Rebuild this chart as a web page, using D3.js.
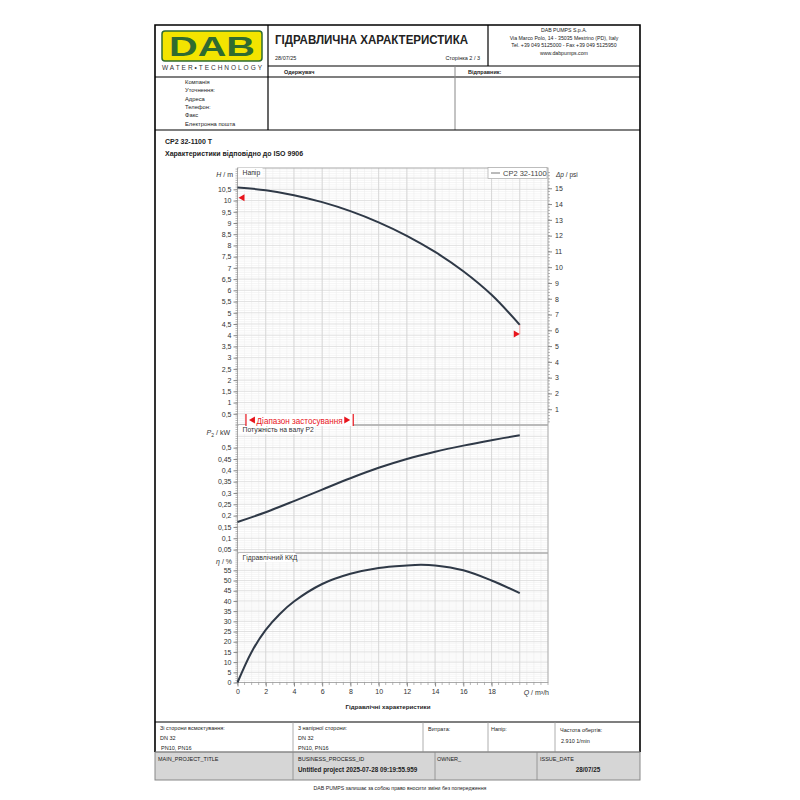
<!DOCTYPE html>
<html><head><meta charset="utf-8">
<script src="https://cdn.jsdelivr.net/npm/d3@7"></script>
<style>body{margin:0;background:#fff} svg{display:block} text{font-family:"Liberation Sans",Arial,sans-serif;fill:#222}</style>
</head><body><svg id="c" width="800" height="800"></svg>
<script>
// ---- data ----
const flow  = [0, 2, 4, 6, 8, 10, 12, 14, 16, 18, 20];
const head  = [10.58, 10.46, 10.24, 9.93, 9.53, 9.03, 8.43, 7.71, 6.85, 5.80, 4.46];
const power = [0.172, 0.215, 0.264, 0.315, 0.365, 0.411, 0.45, 0.482, 0.509, 0.533, 0.555];
const effFlow = [0, 1, 2, 3, 4, 6, 8, 10, 12, 13, 14, 16, 18, 20];
const eff     = [0, 15.0, 25.8, 33.6, 39.7, 48.3, 53.3, 56.2, 57.4, 57.7, 57.4, 55.0, 50.0, 43.8];
const qTicks   = [0, 2, 4, 6, 8, 10, 12, 14, 16, 18];
const hTicks   = [0.5,1,1.5,2,2.5,3,3.5,4,4.5,5,5.5,6,6.5,7,7.5,8,8.5,9,9.5,10,10.5];
const psiTicks = [1,2,3,4,5,6,7,8,9,10,11,12,13,14,15];
const pTicks   = [0.05,0.1,0.15,0.2,0.25,0.3,0.35,0.4,0.45,0.5];
const etaTicks = [0,5,10,15,20,25,30,35,40,45,50,55];
const dutyLeft  = {q: 0, h: 10.12};
const dutyRight = {q: 20, h: 4.05};
const rangeQ = [0.6, 8.2];

const svg = d3.select("#c");
const fmt = d => String(+d.toFixed(2)).replace(".", ",");

// ---- page frame ----
const line = (x1,y1,x2,y2,c="#000",w=1) => svg.append("line").attr("x1",x1).attr("y1",y1).attr("x2",x2).attr("y2",y2).attr("stroke",c).attr("stroke-width",w);
const txt = (x,y,s,size=6,opt={}) => {
  const t = svg.append("text").attr("x",x).attr("y",y).attr("font-size",size).text(s);
  if (opt.bold) t.attr("font-weight","bold");
  if (opt.anchor) t.attr("text-anchor",opt.anchor);
  if (opt.fill) t.style("fill",opt.fill);
  return t;
};

// footer gray row
svg.append("rect").attr("x",155).attr("y",752).attr("width",485).attr("height",28).attr("fill","#d6d6d6").attr("stroke","#888");
// outer frame
svg.append("path").attr("d","M155,752 V25 H640 V752").attr("fill","none").attr("stroke","#000").attr("stroke-width",1.6);
// header lines
line(268,25,268,130,"#000",1.2);
line(488,25,488,66,"#000",1.2);
line(268,66,640,66,"#000",1.2);
line(155,77,640,77,"#000",1.2);
line(455,66,455,130,"#888",1);
line(155,130,640,130,"#000",1.2);
line(155,722,640,722,"#000",1.2);
// footer row 1 dividers
[293,423,488,555].forEach(x => line(x,722,x,752,"#999",0.8));
line(155,752,640,752,"#888",1);
[293,435,537].forEach(x => line(x,752,x,780,"#888",0.8));

// logo
svg.append("rect").attr("x",162).attr("y",31).attr("width",100).attr("height",30).attr("rx",3).attr("fill","#f3e400").attr("stroke","#2f6b30").attr("stroke-width",1.5);
txt(212,56,"DAB",27,{bold:true,anchor:"middle",fill:"#2f6b30"}).attr("textLength",86).attr("lengthAdjust","spacingAndGlyphs").attr("font-family","'DejaVu Sans',sans-serif");
txt(212,70,"WATER•TECHNOLOGY",6.5,{anchor:"middle",fill:"#333"}).attr("textLength",100).attr("lengthAdjust","spacing");

// title block
txt(275,44,"ГІДРАВЛИЧНА ХАРАКТЕРИСТИКА",12.5,{bold:true}).attr("textLength",193).attr("lengthAdjust","spacingAndGlyphs");
txt(275,60,"28/07/25",5.5);
txt(480,60,"Сторінка 2 / 3",5.5,{anchor:"end"});
// address
[["DAB PUMPS S.p.A.",32],["Via Marco Polo, 14 - 35035 Mestrino (PD), Italy",39.5],["Tel. +39 049 5125000 - Fax +39 049 5125950",47],["www.dabpumps.com",54.5]]
  .forEach(([s,y]) => txt(564,y,s,5.2,{anchor:"middle"}));
txt(284,74,"Одержувач",5.5,{bold:true});
txt(468,74,"Відправник:",5.5,{bold:true});
// info labels
[["Компанія",84],["Уточнення:",92],["Адреса",100.5],["Телефон:",109],["Факс",117],["Електронна пошта",126]]
  .forEach(([s,y]) => txt(185,y,s,5.8));

// section titles
txt(165,144,"CP2 32-1100 T",7,{bold:true});
txt(165,156,"Характеристики відповідно до ISO 9906",7,{bold:true});

// ---- chart scales ----
const xL = 237.5, xR = 548;
const x = d3.scaleLinear().domain([0,22]).range([xL,xR]);
const yH = d3.scaleLinear().domain([0,11.45]).range([425,168]);
const yPsi = d3.scaleLinear().domain([0,11.45/0.70307]).range([425,168]);
const yP = d3.scaleLinear().domain([0.035,0.6]).range([553,425]);
const yE = d3.scaleLinear().domain([0,63.5]).range([682.5,553]);

const g = svg.append("g");
// grid
function hgrid(scale, step, from, to, color, w) {
  const n = Math.round((to-from)/step);
  for (let i=0;i<=n;i++){ const v = from + i*step; const yy = scale(v);
    g.append("line").attr("x1",xL).attr("x2",xR).attr("y1",yy).attr("y2",yy).attr("stroke",color).attr("stroke-width",w); }
}
hgrid(yH,0.1,0,11.4,"#efefef",0.6);
hgrid(yP,0.01,0.04,0.6,"#efefef",0.6);
hgrid(yE,1,0,63,"#efefef",0.6);
d3.range(0,22.01,0.5).forEach(q => g.append("line").attr("x1",x(q)).attr("x2",x(q)).attr("y1",168).attr("y2",682.5).attr("stroke","#eeeeee").attr("stroke-width",0.6));
hgrid(yH,0.5,0.5,11,"#dadada",0.7);
hgrid(yP,0.05,0.05,0.6,"#dadada",0.7);
hgrid(yE,5,5,60,"#dadada",0.7);
d3.range(2,22,2).forEach(q => g.append("line").attr("x1",x(q)).attr("x2",x(q)).attr("y1",168).attr("y2",682.5).attr("stroke","#d2d2d2").attr("stroke-width",0.8));

// frame lines
g.append("rect").attr("x",xL).attr("y",168).attr("width",xR-xL).attr("height",682.5-168).attr("fill","none").attr("stroke","#aaa").attr("stroke-width",1);
[425,553].forEach(yy => g.append("line").attr("x1",xL).attr("x2",xR).attr("y1",yy).attr("y2",yy).attr("stroke","#aaa").attr("stroke-width",1.4));

// axes
const axCol = "#888";
function leftAxis(scale, major, minorStep, lo, hi) {
  const ax = svg.append("g").attr("transform",`translate(${xL},0)`)
    .call(d3.axisLeft(scale).tickValues(major).tickFormat(fmt).tickSize(4).tickPadding(2));
  ax.select(".domain").remove();
  ax.selectAll("line").attr("stroke",axCol);
  ax.selectAll("text").attr("font-size",7).style("fill","#333").attr("font-family","'Liberation Sans',Arial,sans-serif");
  const mn = d3.range(lo, hi+1e-9, minorStep);
  ax.selectAll(".mn").data(mn).enter().append("line").attr("x1",-2).attr("x2",0).attr("y1",d=>scale(d)).attr("y2",d=>scale(d)).attr("stroke",axCol).attr("stroke-width",0.6);
}
leftAxis(yH, hTicks, 0.1, 0, 11.4);
leftAxis(yP, pTicks, 0.01, 0.04, 0.6);
leftAxis(yE, etaTicks, 1, 0, 63);

const rAx = svg.append("g").attr("transform",`translate(${xR},0)`)
  .call(d3.axisRight(yPsi).tickValues(psiTicks).tickFormat(d=>d).tickSize(4).tickPadding(3));
rAx.select(".domain").remove();
rAx.selectAll("line").attr("stroke",axCol);
rAx.selectAll("text").attr("font-size",7).style("fill","#333").attr("font-family","'Liberation Sans',Arial,sans-serif");
rAx.selectAll(".mn").data(d3.range(0.2,16.2,0.2)).enter().append("line").attr("x1",0).attr("x2",2).attr("y1",d=>yPsi(d)).attr("y2",d=>yPsi(d)).attr("stroke",axCol).attr("stroke-width",0.6);

const bAx = svg.append("g").attr("transform","translate(0,682.5)")
  .call(d3.axisBottom(x).tickValues(qTicks).tickSize(4).tickPadding(3));
bAx.select(".domain").remove();
bAx.selectAll("line").attr("stroke",axCol);
bAx.selectAll("text").attr("font-size",7).style("fill","#333").attr("font-family","'Liberation Sans',Arial,sans-serif");
bAx.selectAll(".mn").data(d3.range(0,22.01,0.5)).enter().append("line").attr("x1",d=>x(d)).attr("x2",d=>x(d)).attr("y1",0).attr("y2",2.5).attr("stroke",axCol).attr("stroke-width",0.6);

// axis titles
function ital(xx,yy,parts,anchor){
  const t = svg.append("text").attr("x",xx).attr("y",yy).attr("font-size",7).attr("text-anchor",anchor).style("fill","#333");
  parts.forEach(([s,it,sub]) => { const ts = t.append("tspan").text(s); if(it) ts.attr("font-style","italic"); if(sub) ts.attr("font-size",5).attr("dy",1.5); });
  return t;
}
ital(233,177,[["H",1],[" / m"]],"end");
ital(556,177,[["Δp",1],[" / psi"]],"start").attr("font-size",6.5);
ital(230,435,[["P",1],["2",0,1],[" / kW",0]],"end").select("tspan:last-child").attr("dy",-1.5);
ital(232,564,[["η",1],[" / %"]],"end");
ital(549,695,[["Q",1],[" / m³/h"]],"end");
txt(388,709,"Гідравлічні характеристики",6.2,{bold:true,anchor:"middle"});

// panel labels
function plabel(yy, s, w){
  svg.append("rect").attr("x",xL+1).attr("y",yy-7).attr("width",w).attr("height",9).attr("fill","#fff");
  txt(xL+5,yy,s,6.8,{fill:"#333"});
}
plabel(175,"Напір",24);
plabel(432,"Потужність на валу P2",76);
plabel(560,"Гідравлічний ККД",57);

// curves
const curveCol = "#2f3947";
const mk = (ys) => d3.line().x(d=>x(d[0])).y(d=>ys(d[1])).curve(d3.curveCatmullRom.alpha(0.5));
svg.append("path").datum(flow.map((q,i)=>[q,head[i]])).attr("d",mk(yH)).attr("fill","none").attr("stroke",curveCol).attr("stroke-width",2);
svg.append("path").datum(flow.map((q,i)=>[q,power[i]])).attr("d",mk(yP)).attr("fill","none").attr("stroke",curveCol).attr("stroke-width",2);
svg.append("path").datum(effFlow.map((q,i)=>[q,eff[i]])).attr("d",mk(yE)).attr("fill","none").attr("stroke",curveCol).attr("stroke-width",2);

// duty markers
const red = "#e8141c";
const lx = x(dutyLeft.q), ly = yH(dutyLeft.h);
svg.append("path").attr("d",`M${lx+1},${ly} l6,-3.5 v7 z`).attr("fill",red);
const rx = x(dutyRight.q), ry = yH(dutyRight.h);
svg.append("line").attr("x1",rx).attr("x2",rx).attr("y1",yH(head[head.length-1])).attr("y2",ry).attr("stroke","#f4a0a0").attr("stroke-width",0.8);
svg.append("path").attr("d",`M${rx},${ry} l-6,-3.5 v7 z`).attr("fill",red);

// application range box
const ax0 = x(rangeQ[0]), ax1 = x(rangeQ[1]);
svg.append("rect").attr("x",ax0).attr("y",414).attr("width",ax1-ax0).attr("height",12).attr("fill","#fff");
line(ax0,414,ax0,426,red,1.2); line(ax1,414,ax1,426,red,1.2);
svg.append("path").attr("d",`M${ax0+3},420 l6,-3.5 v7 z`).attr("fill",red);
svg.append("path").attr("d",`M${ax1-3},420 l-6,-3.5 v7 z`).attr("fill",red);
txt((ax0+ax1)/2,423.5,"Діапазон застосування",8.5,{anchor:"middle",fill:red}).attr("textLength",86).attr("lengthAdjust","spacingAndGlyphs");

// legend
svg.append("rect").attr("x",488).attr("y",167.5).attr("width",59).attr("height",11).attr("fill","#fff").attr("stroke","#aaa").attr("stroke-width",0.7);
line(491,173,500,173,"#777",1);
txt(503,176,"CP2 32-1100",7.5,{fill:"#444"});

// footer text
txt(160,730,"Зі сторони всмоктування:",5.5);
txt(160,740,"DN 32",5.5);
txt(161,749.5,"PN10, PN16",5.5);
txt(298,730,"3 напірної сторони:",5.5);
txt(298,740,"DN 32",5.5);
txt(298,749.5,"PN10, PN16",5.5);
txt(428,731,"Витрата:",5.5);
txt(491,731,"Напір:",5.5);
txt(560,732,"Частота обертів:",5.5);
txt(561,743,"2.910 1/min",5.5);
txt(158,761,"MAIN_PROJECT_TITLE",5.5);
txt(298,761,"BUSINESS_PROCESS_ID",5.5);
txt(298,772,"Untitled project 2025-07-28 09:19:55.959",6.3,{bold:true});
txt(437,761,"OWNER_",5.5);
txt(540,761,"ISSUE_DATE",5.5);
txt(588,772,"28/07/25",6.3,{bold:true,anchor:"middle"});
txt(400,790,"DAB PUMPS залишає за собою право вносити зміни без попередження",5.2,{anchor:"middle"});
</script></body></html>
